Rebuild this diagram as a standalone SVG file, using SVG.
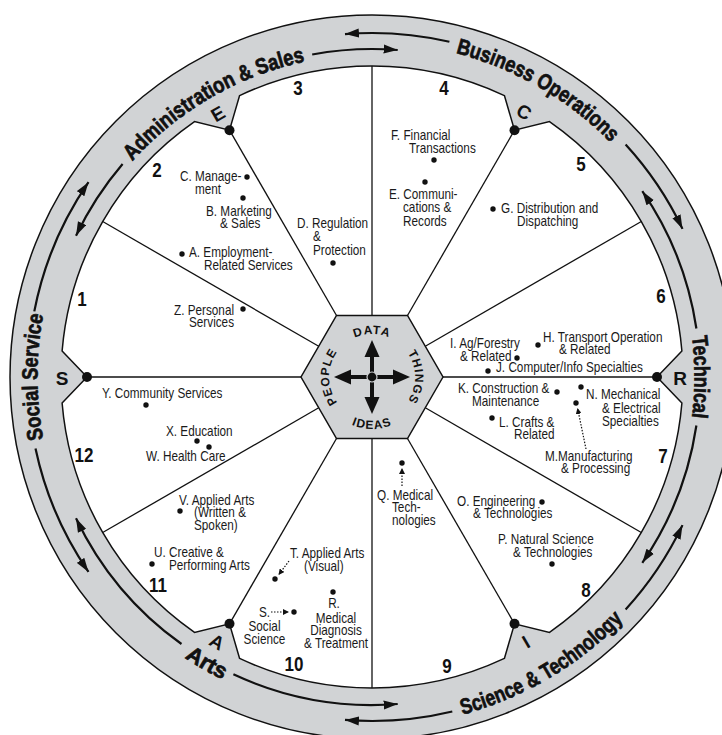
<svg xmlns="http://www.w3.org/2000/svg" width="722" height="735" viewBox="0 0 722 735">
<defs>
<style>
.t{font-family:"Liberation Sans",Arial,sans-serif;font-size:14px;fill:#1a1a1a}
.c{text-anchor:middle}
.n{font-family:"Liberation Sans",Arial,sans-serif;font-weight:bold;font-size:20px;fill:#111;text-anchor:middle}
.lab{font-family:"Liberation Sans",Arial,sans-serif;font-weight:bold;font-size:22px;fill:#111;stroke:#111;stroke-width:0.7}
.tab{font-family:"Liberation Sans",Arial,sans-serif;font-weight:bold;font-size:19px;fill:#111;text-anchor:middle;dominant-baseline:central}
.hx{font-family:"Liberation Sans",Arial,sans-serif;font-weight:bold;font-size:12px;fill:#111;letter-spacing:1px;text-anchor:middle}
.sp{stroke:#111;stroke-width:1.3;fill:none}
.ra{stroke:#111;stroke-width:2.2;fill:none;marker-end:url(#ah)}
.da{stroke:#111;stroke-width:1.2;fill:none;stroke-dasharray:1.5 1.5;marker-end:url(#dh)}
.dot{fill:#111}
</style>
<marker id="ah" markerUnits="userSpaceOnUse" markerWidth="15" markerHeight="10" refX="14" refY="5" orient="auto"><path d="M0,0.5 L14,5 L0,9.5 z" fill="#111"/></marker>
<marker id="dh" markerUnits="userSpaceOnUse" markerWidth="7" markerHeight="6" refX="6" refY="3" orient="auto"><path d="M0,0 L6,3 L0,6 z" fill="#111"/></marker>
<path id="pAdm" d="M132.34,161.21 A322.5,322.5 0 0 1 304.95,61.55"/>
<path id="pBus" d="M455.75,53.15 A334.5,334.5 0 0 1 610.58,142.55"/>
<path id="pTec" d="M691.96,336.58 A322.5,322.5 0 0 1 691.96,417.42"/>
<path id="pSci" d="M462.46,714.59 A349.5,349.5 0 0 0 623.41,619.78"/>
<path id="pArt" d="M133.35,615.65 A337.5,337.5 0 0 0 284.65,703.0"/>
<path id="pSoc" d="M43.32,439.11 A334.5,334.5 0 0 1 43.32,314.89"/>
<path id="hD" d="M334.76,355.5 A43,43 0 0 1 409.24,355.5"/>
<path id="hT" d="M393.5,339.76 A43,43 0 0 1 393.5,414.24"/>
<path id="hP" d="M350.5,414.24 A43,43 0 0 1 350.5,339.76"/>
<path id="hI" d="M326.97,403 A52,52 0 0 0 417.03,403"/>
</defs>
<rect width="722" height="735" fill="#ffffff"/>

<g id="ring">
<path fill="#d1d3d5" stroke="#111" stroke-width="1.5" fill-rule="evenodd" d="M10,377 A362,362 0 1 1 734,377 A362,362 0 1 1 10,377 Z M239.6,95.6 A311,311 0 0 1 504.4,95.6 L514.5,130.2 L549.5,121.6 A311,311 0 0 1 681.9,351.0 L657,377 L681.9,403.0 A311,311 0 0 1 549.5,632.4 L514.5,623.8 L504.4,658.4 A311,311 0 0 1 239.6,658.4 L229.5,623.8 L194.5,632.4 A311,311 0 0 1 62.1,403.0 L87,377 L62.1,351.0 A311,311 0 0 1 194.5,121.6 L229.5,130.2 Z"/>
<text class="lab"><textPath href="#pAdm" textLength="202.6" lengthAdjust="spacingAndGlyphs">Administration &amp; Sales</textPath></text>
<text class="lab"><textPath href="#pBus" textLength="181" lengthAdjust="spacingAndGlyphs">Business Operations</textPath></text>
<text class="lab"><textPath href="#pTec" textLength="81" lengthAdjust="spacingAndGlyphs">Technical</textPath></text>
<text class="lab"><textPath href="#pSci" textLength="189" lengthAdjust="spacingAndGlyphs">Science &amp; Technology</textPath></text>
<text class="lab" text-anchor="middle"><textPath href="#pArt" startOffset="50%">Arts</textPath></text>
<text class="lab"><textPath href="#pSoc" textLength="125" lengthAdjust="spacingAndGlyphs">Social Service</textPath></text>
</g>

<g id="connectors">
<line class="sp" x1="407.5" y1="315.5" x2="514.5" y2="130.2"/>
<line class="sp" x1="443" y1="377" x2="657" y2="377"/>
<line class="sp" x1="407.5" y1="438.5" x2="514.5" y2="623.8"/>
<line class="sp" x1="336.5" y1="438.5" x2="229.5" y2="623.8"/>
<line class="sp" x1="301" y1="377" x2="87" y2="377"/>
<line class="sp" x1="336.5" y1="315.5" x2="229.5" y2="130.2"/>
<line class="sp" x1="372" y1="315.5" x2="372" y2="66"/>
<line class="sp" x1="425.3" y1="346.3" x2="641.3" y2="221.5"/>
<line class="sp" x1="425.3" y1="407.8" x2="641.3" y2="532.5"/>
<line class="sp" x1="372" y1="438.5" x2="372" y2="688"/>
<line class="sp" x1="318.7" y1="407.8" x2="102.7" y2="532.5"/>
<line class="sp" x1="318.7" y1="346.3" x2="102.7" y2="221.5"/>
<path class="ra" d="M34.3,311.4 A344,344 0 0 1 88.5,182.2"/>
<path class="ra" d="M122.6,164.0 A328,328 0 0 0 76.0,235.8"/>
<path class="ra" d="M312.2,54.5 A328,328 0 0 1 397.7,50.0"/>
<path class="ra" d="M449.4,41.8 A344,344 0 0 0 345.0,34.1"/>
<path class="ra" d="M625.6,144.6 A344,344 0 0 1 682.5,228.9"/>
<path class="ra" d="M696.4,328.5 A328,328 0 0 0 642.3,191.2"/>
<path class="ra" d="M696.4,425.5 A328,328 0 0 1 642.3,562.8"/>
<path class="ra" d="M625.6,609.4 A344,344 0 0 0 682.5,525.1"/>
<path class="ra" d="M452.3,711.5 A344,344 0 0 1 345.0,719.9"/>
<path class="ra" d="M233.4,674.3 A328,328 0 0 0 397.7,704.0"/>
<path class="ra" d="M181.5,644.0 A328,328 0 0 1 76.0,518.2"/>
<path class="ra" d="M35.5,448.5 A344,344 0 0 0 88.5,571.9"/>
<path class="da" d="M586,449 L577.5,408"/>
<path class="da" d="M402,486 L402,468"/>
<path class="da" d="M289,561 L278.5,575"/>
<path class="da" d="M271,612 L289,612"/>
</g>

<g id="hub">
<polygon points="443,377 407.5,438.5 336.5,438.5 301,377 336.5,315.5 407.5,315.5" fill="#d1d3d5" stroke="#111" stroke-width="1.5"/>
<text class="hx"><textPath href="#hD" startOffset="50%">DATA</textPath></text>
<text class="hx"><textPath href="#hT" startOffset="50%">THINGS</textPath></text>
<text class="hx"><textPath href="#hP" startOffset="50%">PEOPLE</textPath></text>
<text class="hx"><textPath href="#hI" startOffset="50%">IDEAS</textPath></text>
<g fill="#111" stroke="none">
<rect x="370" y="356" width="4" height="42"/>
<rect x="351" y="375" width="42" height="4"/>
<polygon points="372,340 364.5,357 379.5,357"/>
<polygon points="372,414 364.5,397 379.5,397"/>
<polygon points="410,377 393,369.5 393,384.5"/>
<polygon points="334,377 351,369.5 351,384.5"/>
</g>
<circle cx="372" cy="377" r="5" fill="#111" stroke="#d1d3d5" stroke-width="1.2"/>
</g>

<g id="node-E"><circle class="dot" cx="229.5" cy="130.2" r="5"/><text class="tab" transform="translate(218,114) rotate(-30)">E</text></g>
<g id="node-C"><circle class="dot" cx="514.5" cy="130.2" r="5"/><text class="tab" transform="translate(524,112) rotate(30)">C</text></g>
<g id="node-R"><circle class="dot" cx="657" cy="377" r="5"/><text class="tab" transform="translate(680,378)">R</text></g>
<g id="node-I"><circle class="dot" cx="514.5" cy="623.8" r="5"/><text class="tab" transform="translate(526,642) rotate(-30)">I</text></g>
<g id="node-A"><circle class="dot" cx="229.5" cy="623.8" r="5"/><text class="tab" transform="translate(217,642) rotate(30)">A</text></g>
<g id="node-S"><circle class="dot" cx="87" cy="377" r="5"/><text class="tab" transform="translate(62,378)">S</text></g>

<g id="numbers">
<text class="n" transform="translate(82,306) scale(0.85,1)">1</text>
<text class="n" transform="translate(157,177) scale(0.85,1)">2</text>
<text class="n" transform="translate(298,95) scale(0.85,1)">3</text>
<text class="n" transform="translate(444,95) scale(0.85,1)">4</text>
<text class="n" transform="translate(581,171) scale(0.85,1)">5</text>
<text class="n" transform="translate(661,303) scale(0.85,1)">6</text>
<text class="n" transform="translate(663,463) scale(0.85,1)">7</text>
<text class="n" transform="translate(586,597) scale(0.85,1)">8</text>
<text class="n" transform="translate(447,673) scale(0.85,1)">9</text>
<text class="n" transform="translate(294,671) scale(0.85,1)">10</text>
<text class="n" transform="translate(158,592) scale(0.85,1)">11</text>
<text class="n" transform="translate(84,462) scale(0.85,1)">12</text>
</g>

<g id="item-C"><circle class="dot" cx="247" cy="177" r="2.7"/><text class="t" transform="translate(180,181) scale(0.84,1)">C. Manage-</text><text class="t" transform="translate(195,194) scale(0.84,1)">ment</text></g>
<g id="item-B"><circle class="dot" cx="243" cy="198" r="2.7"/><text class="t" transform="translate(206,216) scale(0.84,1)">B. Marketing</text><text class="t" transform="translate(220,228) scale(0.84,1)">&amp; Sales</text></g>
<g id="item-D"><circle class="dot" cx="333" cy="263" r="2.7"/><text class="t" transform="translate(297,228) scale(0.84,1)">D. Regulation</text><text class="t" transform="translate(313,241) scale(0.84,1)">&amp;</text><text class="t" transform="translate(313,255) scale(0.84,1)">Protection</text></g>
<g id="item-A"><circle class="dot" cx="182" cy="254" r="2.7"/><text class="t" transform="translate(189,257) scale(0.84,1)">A. Employment-</text><text class="t" transform="translate(204,270) scale(0.84,1)">Related Services</text></g>
<g id="item-Z"><circle class="dot" cx="243" cy="309" r="2.7"/><text class="t" transform="translate(174,315) scale(0.84,1)">Z. Personal</text><text class="t" transform="translate(189,327) scale(0.84,1)">Services</text></g>
<g id="item-Y"><circle class="dot" cx="146" cy="405" r="2.7"/><text class="t" transform="translate(102,398) scale(0.84,1)">Y. Community Services</text></g>
<g id="item-X"><circle class="dot" cx="197" cy="441" r="2.7"/><text class="t" transform="translate(166,436) scale(0.84,1)">X. Education</text></g>
<g id="item-W"><circle class="dot" cx="209" cy="447" r="2.7"/><text class="t" transform="translate(146,461) scale(0.84,1)">W. Health Care</text></g>
<g id="item-F"><circle class="dot" cx="434" cy="160" r="2.7"/><text class="t" transform="translate(391,140) scale(0.84,1)">F.  Financial</text><text class="t" transform="translate(409,153) scale(0.84,1)">Transactions</text></g>
<g id="item-E"><circle class="dot" cx="425" cy="182" r="2.7"/><text class="t" transform="translate(389,199) scale(0.84,1)">E. Communi-</text><text class="t" transform="translate(403,212) scale(0.84,1)">cations &amp;</text><text class="t" transform="translate(403,226) scale(0.84,1)">Records</text></g>
<g id="item-G"><circle class="dot" cx="493" cy="209" r="2.7"/><text class="t" transform="translate(501,213) scale(0.84,1)">G. Distribution and</text><text class="t" transform="translate(517,226) scale(0.84,1)">Dispatching</text></g>
<g id="item-H"><circle class="dot" cx="538" cy="345" r="2.7"/><text class="t" transform="translate(543,342) scale(0.84,1)">H. Transport Operation</text><text class="t" transform="translate(559,354) scale(0.84,1)">&amp; Related</text></g>
<g id="item-I"><circle class="dot" cx="517" cy="358" r="2.7"/><text class="t" transform="translate(450,348) scale(0.84,1)">I. Ag/Forestry</text><text class="t" transform="translate(460,361) scale(0.84,1)">&amp; Related</text></g>
<g id="item-J"><circle class="dot" cx="488" cy="371" r="2.7"/><text class="t" transform="translate(496,372) scale(0.84,1)">J. Computer/Info Specialties</text></g>
<g id="item-K"><circle class="dot" cx="557" cy="392" r="2.7"/><text class="t" transform="translate(458,393) scale(0.84,1)">K. Construction &amp;</text><text class="t" transform="translate(472,406) scale(0.84,1)">Maintenance</text></g>
<g id="item-N"><circle class="dot" cx="581" cy="387" r="2.7"/><text class="t" transform="translate(586,399) scale(0.84,1)">N. Mechanical</text><text class="t" transform="translate(602,413) scale(0.84,1)">&amp; Electrical</text><text class="t" transform="translate(602,426) scale(0.84,1)">Specialties</text></g>
<g id="item-L"><circle class="dot" cx="492" cy="418" r="2.7"/><text class="t" transform="translate(499,427) scale(0.84,1)">L. Crafts &amp;</text><text class="t" transform="translate(514,439) scale(0.84,1)">Related</text></g>
<g id="item-M"><circle class="dot" cx="576" cy="403" r="2.7"/><text class="t" transform="translate(545,461) scale(0.84,1)">M.Manufacturing</text><text class="t" transform="translate(561,473) scale(0.84,1)">&amp; Processing</text></g>
<g id="item-Q"><circle class="dot" cx="402" cy="463" r="2.7"/><text class="t" transform="translate(377,500) scale(0.84,1)">Q. Medical</text><text class="t" transform="translate(392,512) scale(0.84,1)">Tech-</text><text class="t" transform="translate(392,525) scale(0.84,1)">nologies</text></g>
<g id="item-O"><circle class="dot" cx="542" cy="502" r="2.7"/><text class="t" transform="translate(457,506) scale(0.84,1)">O. Engineering</text><text class="t" transform="translate(473,518) scale(0.84,1)">&amp; Technologies</text></g>
<g id="item-P"><circle class="dot" cx="552" cy="564" r="2.7"/><text class="t" transform="translate(498,544) scale(0.84,1)">P. Natural Science</text><text class="t" transform="translate(513,557) scale(0.84,1)">&amp; Technologies</text></g>
<g id="item-V"><circle class="dot" cx="180" cy="511" r="2.7"/><text class="t" transform="translate(179,505) scale(0.84,1)">V. Applied Arts</text><text class="t" transform="translate(194,517) scale(0.84,1)">(Written &amp;</text><text class="t" transform="translate(194,530) scale(0.84,1)">Spoken)</text></g>
<g id="item-U"><circle class="dot" cx="152" cy="564" r="2.7"/><text class="t" transform="translate(154,557) scale(0.84,1)">U. Creative &amp;</text><text class="t" transform="translate(169,570) scale(0.84,1)">Performing Arts</text></g>
<g id="item-T"><circle class="dot" cx="275" cy="579" r="2.7"/><text class="t" transform="translate(290,558) scale(0.84,1)">T. Applied Arts</text><text class="t" transform="translate(304,571) scale(0.84,1)">(Visual)</text></g>
<g id="item-R"><circle class="dot" cx="333" cy="592" r="2.7"/><text class="t c" transform="translate(334,608) scale(0.84,1)">R.</text><text class="t c" transform="translate(336,623) scale(0.84,1)">Medical</text><text class="t c" transform="translate(336,635) scale(0.84,1)">Diagnosis</text><text class="t c" transform="translate(336,648) scale(0.84,1)">&amp; Treatment</text></g>
<g id="item-S"><circle class="dot" cx="294" cy="612" r="2.7"/><text class="t" transform="translate(259,617) scale(0.84,1)">S.</text><text class="t c" transform="translate(264.5,631) scale(0.84,1)">Social</text><text class="t c" transform="translate(264.5,644) scale(0.84,1)">Science</text></g>
</svg>
